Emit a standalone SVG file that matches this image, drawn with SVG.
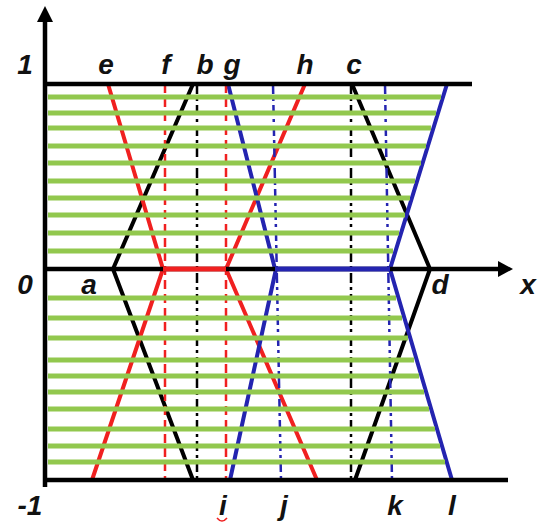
<svg xmlns="http://www.w3.org/2000/svg" width="539" height="524" viewBox="0 0 539 524">
<style>
.lbl{font-family:"Liberation Sans",Arial,sans-serif;font-style:italic;font-weight:bold;font-size:28px;fill:#111;text-anchor:middle}
.ax{stroke:#000;stroke-width:4.5;fill:none}
.sl{fill:none;stroke-width:4;stroke-linejoin:miter}
.st{stroke:#92c84e;stroke-width:5}
.vr{stroke:#f02020;stroke-width:2.5;stroke-dasharray:9 5;fill:none}
.vb{stroke:#2424b0;stroke-width:2.5;stroke-dasharray:10 4 3 4;fill:none}
.vk{stroke:#000;stroke-width:2.5;stroke-dasharray:10 4 3 4;fill:none}
</style>
<rect width="539" height="524" fill="#fff"/>
<g id="connectors">
<g id="curves">
<path class="sl" stroke="#000" d="M193 84 L113 269 L193 480"/>
<path class="sl" stroke="#000" d="M352 84 L430 269 L355 480"/>
<path class="sl" stroke="#f02020" d="M108 84 L163 269 L226 269 L305 84 M92 480 L163 269 M226 269 L317 480"/>
<path class="sl" stroke="#2424b0" d="M228 84 L275 269 L390 269 L447 84 M230 480 L276 269 M390 269 L452 480"/>
</g>
<g id="verticals">
<line class="vr" x1="165" y1="84" x2="165" y2="480"/>
<line class="vk" x1="197" y1="84" x2="197" y2="480"/>
<line class="vr" x1="226" y1="84" x2="226" y2="480"/>
<line class="vb" x1="273" y1="84" x2="281" y2="480"/>
<line class="vk" x1="351" y1="84" x2="351" y2="480"/>
<line class="vb" x1="385" y1="84" x2="392" y2="480"/>
</g>
<g id="stripes">
<line class="st" x1="48" y1="97" x2="441" y2="97"/>
<line class="st" x1="48" y1="113" x2="436" y2="113"/>
<line class="st" x1="48" y1="128" x2="431" y2="128"/>
<line class="st" x1="48" y1="146" x2="426" y2="146"/>
<line class="st" x1="48" y1="163" x2="421" y2="163"/>
<line class="st" x1="48" y1="181" x2="415" y2="181"/>
<line class="st" x1="48" y1="198" x2="410" y2="198"/>
<line class="st" x1="48" y1="215" x2="405" y2="215"/>
<line class="st" x1="48" y1="233" x2="399" y2="233"/>
<line class="st" x1="48" y1="251" x2="393" y2="251"/>
<line class="st" x1="48" y1="298" x2="396" y2="298"/>
<line class="st" x1="48" y1="318" x2="402" y2="318"/>
<line class="st" x1="48" y1="338" x2="408" y2="338"/>
<line class="st" x1="48" y1="360" x2="414" y2="360"/>
<line class="st" x1="48" y1="376" x2="419" y2="376"/>
<line class="st" x1="48" y1="392" x2="424" y2="392"/>
<line class="st" x1="48" y1="409" x2="429" y2="409"/>
<line class="st" x1="48" y1="429" x2="435" y2="429"/>
<line class="st" x1="48" y1="446" x2="440" y2="446"/>
<line class="st" x1="48" y1="462" x2="445" y2="462"/>
</g>
<g id="axes">
<line class="ax" x1="45" y1="18" x2="45" y2="487"/>
<polygon points="45,6 37,22 53,22" fill="#000"/>
<line class="ax" x1="45" y1="84" x2="472" y2="84"/>
<line class="ax" x1="45" y1="269" x2="500" y2="269"/>
<polygon points="513,269 498,261 498,277" fill="#000"/>
<line class="ax" x1="45" y1="480" x2="508" y2="480"/>
<path d="M163 269 L226 269" stroke="#f02020" stroke-width="5"/>
<path d="M275 269 L390 269" stroke="#2424b0" stroke-width="5"/>
</g>
</g>
<g id="labels">
<text class="lbl" x="25" y="74">1</text>
<text class="lbl" x="106" y="74">e</text>
<text class="lbl" x="166" y="74">f</text>
<text class="lbl" x="205" y="74">b</text>
<text class="lbl" x="232" y="74">g</text>
<text class="lbl" x="305" y="74">h</text>
<text class="lbl" x="354" y="74">c</text>
<text class="lbl" x="25" y="294">0</text>
<text class="lbl" x="89" y="294">a</text>
<text class="lbl" x="440" y="294">d</text>
<text class="lbl" x="528" y="294">x</text>
<text class="lbl" x="30" y="515">-1</text>
<text class="lbl" x="223" y="515">i</text>
<text class="lbl" x="284" y="515">j</text>
<text class="lbl" x="395" y="515">k</text>
<text class="lbl" x="452" y="515">l</text>
<path d="M217 518 Q222 524 227 518" fill="none" stroke="#f02020" stroke-width="1.5"/>
</g>
</svg>
